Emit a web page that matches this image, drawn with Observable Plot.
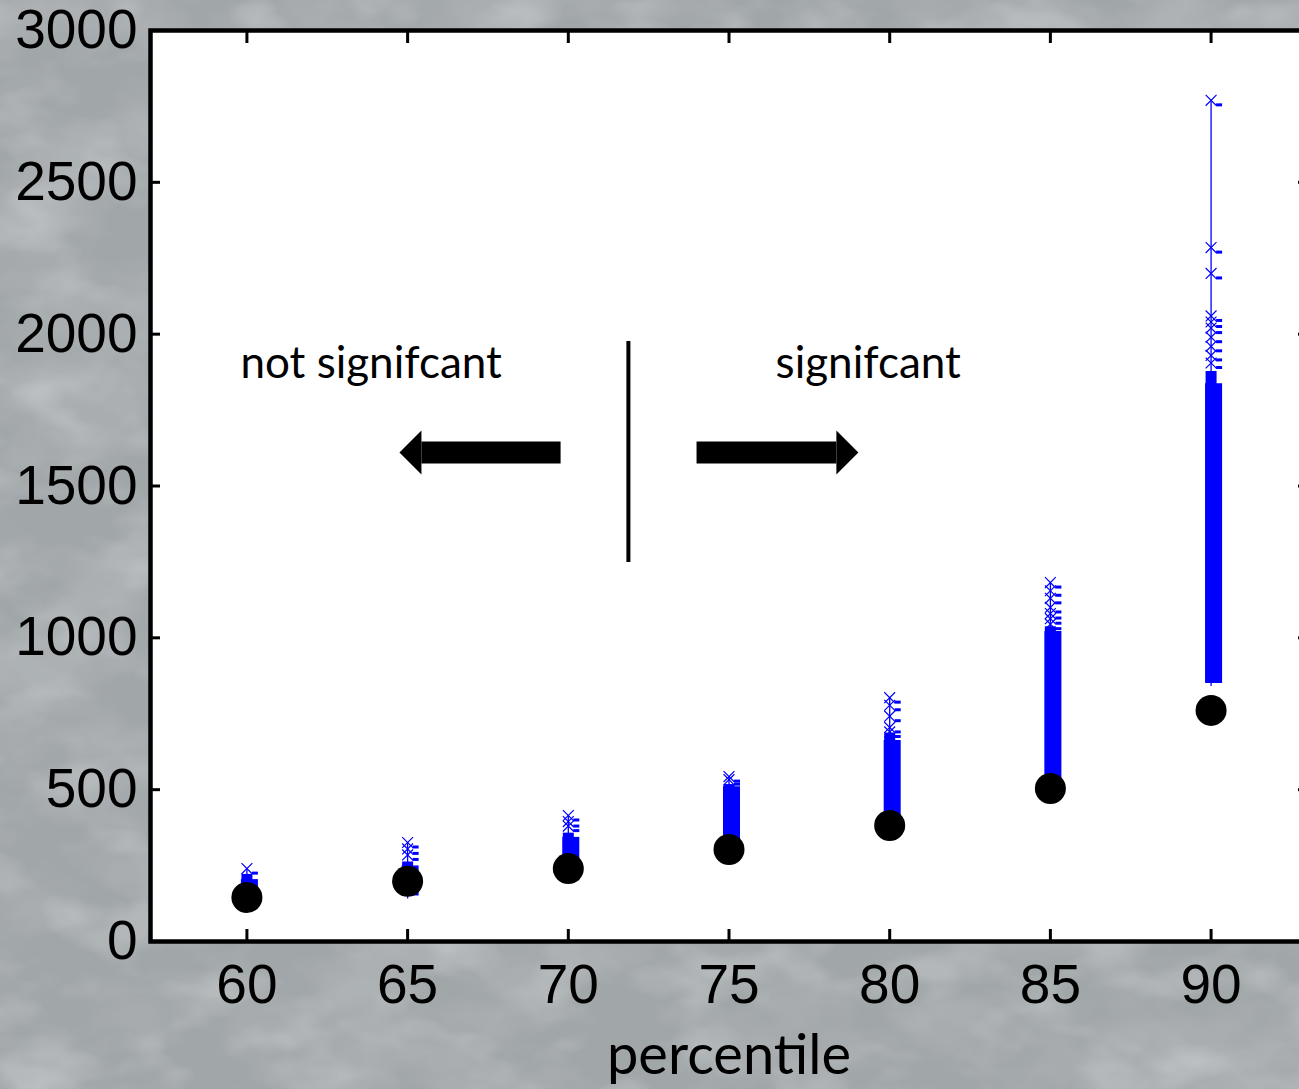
<!DOCTYPE html>
<html>
<head>
<meta charset="utf-8">
<script src="https://cdn.jsdelivr.net/npm/d3@7"></script>
<script src="https://cdn.jsdelivr.net/npm/@observablehq/plot@0.6"></script>
<style>
  html, body { margin: 0; padding: 0; overflow: hidden; width: 1299px; height: 1089px; }
  #bg { position: absolute; left: 0; top: 0; z-index: 0; }
  #chart { position: absolute; left: 0; top: 0; z-index: 1; }
</style>
</head>
<body>
<svg id="bg" width="1299" height="1089" xmlns="http://www.w3.org/2000/svg">
  <filter id="marble" x="0" y="0" width="100%" height="100%">
    <feTurbulence type="fractalNoise" baseFrequency="0.007 0.011" numOctaves="4" seed="7"/>
    <feColorMatrix values="0 0 0 0 0.47  0 0 0 0 0.49  0 0 0 0 0.51  3.2 0 0 0 -1.35"/>
  </filter>
  <filter id="marble2" x="0" y="0" width="100%" height="100%">
    <feTurbulence type="fractalNoise" baseFrequency="0.012 0.02" numOctaves="3" seed="21"/>
    <feColorMatrix values="0 0 0 0 0.72  0 0 0 0 0.74  0 0 0 0 0.75  3 0 0 0 -1.45"/>
  </filter>
  <rect width="1299" height="1089" fill="#a1a6a9"/>
  <rect width="1299" height="1089" filter="url(#marble)" opacity="0.6"/>
  <rect width="1299" height="1089" filter="url(#marble2)" opacity="0.3"/>
</svg>
<div id="chart"></div>
<script>
// ---- data ----
const percentiles = [60, 65, 70, 75, 80, 85, 90];
const observed    = [145, 198, 240, 303, 382, 504, 761];
const simMin      = [105, 140, 190, 255, 345, 510, 840];
const simSolidTop = [217, 262, 356, 523, 675, 1034, 1850];
const simCoreTop  = [234, 275, 370, 530, 700, 1050, 1890];
const simOutliers = [
  [240],
  [326, 305, 285],
  [415, 395, 380],
  [543, 533],
  [803, 778, 742, 705, 690],
  [1182, 1155, 1130, 1100, 1080, 1063, 1045],
  [2770, 2285, 2200, 2060, 2040, 2020, 1990, 1960, 1930, 1905]
];
const xTicks = [60, 65, 70, 75, 80, 85, 90];
const yTicks = [0, 500, 1000, 1500, 2000, 2500, 3000];
const xLabel = "percentile";
const annotations = [
  {x: 59.8, y: 1903, text: "not signifcant"},
  {x: 76.45, y: 1903, text: "signifcant"}
];
const divider = [{x: 71.87, y1: 1248, y2: 1976}];
const arrows = [
  {tail: 69.76, base: 65.43, y: 1610, rotate: 180},
  {tail: 73.99, base: 78.34, y: 1610, rotate: 0}
];

// ---- derived tables ----
const columns = percentiles.map((p, i) => ({
  pct: p, obs: observed[i], min: simMin[i], solidTop: simSolidTop[i],
  coreTop: simCoreTop[i], max: Math.max(...simOutliers[i])
}));
const outlierRows = percentiles.flatMap((p, i) => simOutliers[i].map(v => ({pct: p, v})));

const blue = "#0000ff";

// custom marker shapes
const dashSymbol = {
  draw(ctx) { ctx.moveTo(5, 3); ctx.lineTo(11, 3); ctx.lineTo(11, 6); ctx.lineTo(5, 6); ctx.closePath(); }
};
const headSymbol = {
  draw(ctx, size) {
    const r = Math.sqrt(size / Math.PI);
    ctx.moveTo(0, -r); ctx.lineTo(r, 0); ctx.lineTo(0, r); ctx.closePath();
  }
};

const chart = Plot.plot({
  width: 1308,
  height: 1089,
  marginLeft: 150,
  marginRight: 1,
  marginTop: 30,
  marginBottom: 148,
  style: {background: "transparent", maxWidth: "none", fontFamily: "'Liberation Sans', Arial, sans-serif", fontSize: "55px", color: "black"},
  x: {domain: [57, 93]},
  y: {domain: [0, 3000]},
  marks: [
    Plot.frame({fill: "white"}),
    // thin connecting line through samples
    Plot.ruleX(columns, {x: "pct", y1: "min", y2: "max", stroke: blue, strokeWidth: 1.3}),
    // dense region incl. dash markers
    Plot.ruleX(columns, {x: "pct", y1: "min", y2: "solidTop", stroke: blue, strokeWidth: 17, dx: 2.5, insetBottom: -4, insetTop: -3}),
    // dense x-marker core
    Plot.ruleX(columns, {x: "pct", y1: "min", y2: "coreTop", stroke: blue, strokeWidth: 11, insetBottom: -4, insetTop: -4}),
    // sparse samples
    Plot.dot(outlierRows, {x: "pct", y: "v", symbol: "times", r: 5, stroke: blue, strokeWidth: 1.2}),
    Plot.dot(outlierRows, {x: "pct", y: "v", symbol: dashSymbol, r: 1, fill: blue, stroke: "none"}),
    // observed value
    Plot.dot(columns, {x: "pct", y: "obs", r: 15.5, fill: "black", stroke: "none"}),
    // annotations
    Plot.ruleX(divider, {x: "x", y1: "y1", y2: "y2", stroke: "black", strokeWidth: 4}),
    Plot.link(arrows, {x1: "tail", x2: "base", y1: "y", y2: "y", stroke: "black", strokeWidth: 22}),
    Plot.dot(arrows, {x: "base", y: "y", symbol: headSymbol, r: 22, rotate: "rotate", fill: "black", stroke: "none"}),
    Plot.text(annotations, {x: "x", y: "y", text: "text", textAnchor: "start", fontFamily: "Lato", fontSize: 44, fill: "black"}),
    // axes
    Plot.frame({stroke: "black", strokeWidth: 4.5}),
    Plot.axisX(xTicks, {anchor: "bottom", tickSize: -12, tickPadding: 34, strokeWidth: 3, label: null, tickFormat: d => String(d)}),
    Plot.axisX(xTicks, {anchor: "top", tickSize: -12, tickFormat: () => "", strokeWidth: 3, label: null}),
    Plot.axisY(yTicks, {anchor: "left", tickSize: -10, tickPadding: 23, strokeWidth: 3, label: null, tickFormat: d => String(d)}),
    Plot.axisY(yTicks, {anchor: "right", tickSize: -10, tickFormat: () => "", strokeWidth: 3, label: null}),
    Plot.text([xLabel], {frameAnchor: "bottom", text: d => d, dy: 132, fontFamily: "Lato", fontSize: 56, fill: "black"})
  ]
});
document.getElementById("chart").appendChild(chart);
</script>
</body>
</html>
